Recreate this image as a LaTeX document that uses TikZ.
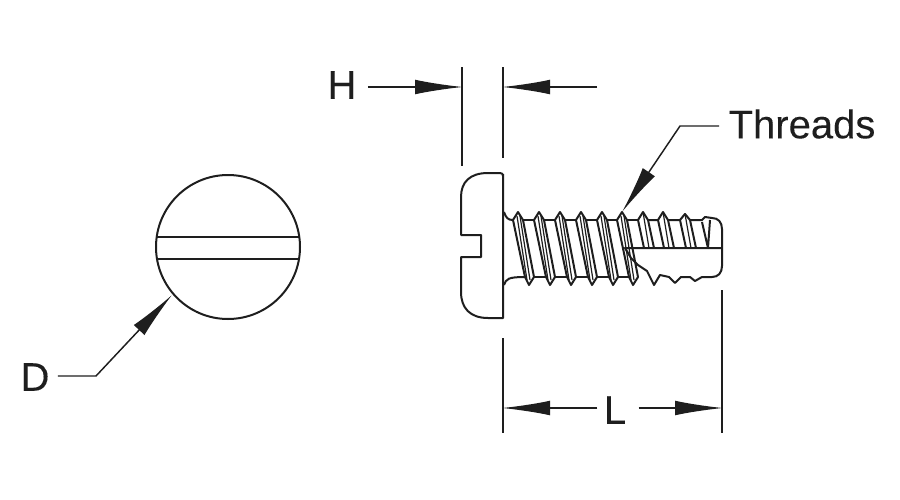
\documentclass[tikz,border=0pt]{standalone}
\usepackage{fontspec}
\setmainfont{Liberation Sans}
\usetikzlibrary{arrows.meta}
\definecolor{inkline}{RGB}{30,30,30}
\tikzset{every picture/.style={line width=0.75pt},
  outline/.style={draw=inkline,line width=1.5pt,line join=round},
  thin outline/.style={draw=inkline,line width=0.9pt,line join=round},
  extline/.style={draw=inkline,line width=1.05pt},
  dimarrow/.style={draw=inkline,line width=1.1pt,-{Latex[length=36pt,width=11pt]}},
  dimlabel/.style={inner sep=0.75pt,text=inkline,font=\fontsize{30}{32}\selectfont\addfontfeature{FakeBold=0.12}}}

\begin{document}
\begin{tikzpicture}[x=0.75pt,y=0.75pt,yscale=-1,xscale=1]
\useasboundingbox (0,0) rectangle (900,500);

% Text Node
\node [dimlabel] (labelH) at (342,85) {H};
\node [dimlabel] (labelThreads) at (802,124) {Threads};
\node [dimlabel] (labelD) at (35,377) {D};
\node [dimlabel] (labelL) at (615,410) {L};

%Shape: End view
\node [circle,draw=inkline,line width=1.5pt,minimum size=108pt,inner sep=0pt] (endview) at (228,247) {};
\draw [outline] (endview.center) ++(-71.5,-10.5) -- ++(143,0) ;
\draw [outline] (endview.center) ++(-71.5,12) -- ++(143,0) ;

%Shape: Head
\draw [outline] (503,174) -- (503,318) -- (488,318) .. controls (470,318) and (461,308) .. (461,292) -- (461,257) -- (481,257) -- (481,235) -- (461,235) -- (461,197) .. controls (461,182) and (470,173) .. (488,173) -- (500,173) .. controls (502,173) and (503,174) .. (503,176) ;

%Shape: Shank ends
\draw [outline] (504,212) .. controls (506,218) and (508,220) .. (513,220) ;
\draw [outline] (504,285) .. controls (506,279) and (508,277) .. (525,277) ;

%Shape: Full threads
\draw [outline] (513,220) -- (518,212) -- (523,220) -- (534,277) -- (529,285) -- (525,277) -- cycle ;
\draw [outline] (534,220) -- (539,212) -- (544,220) -- (555,277) -- (550,285) -- (546,277) -- cycle ;
\draw [outline] (555,220) -- (560,212) -- (565,220) -- (576,277) -- (571,285) -- (567,277) -- cycle ;
\draw [outline] (576,220) -- (581,212) -- (586,220) -- (597,277) -- (592,285) -- (588,277) -- cycle ;
\draw [outline] (597,220) -- (602,212) -- (607,220) -- (618,277) -- (613,285) -- (609,277) -- cycle ;
\draw [outline] (617,220) -- (622,212) -- (627,220) -- (638,277) -- (633,285) -- (629,277) -- cycle ;
\draw [thin outline] (517,216) -- (527,280) ;
\draw [thin outline] (520,216) -- (530,280) ;
\draw [thin outline] (538,216) -- (548,280) ;
\draw [thin outline] (541,216) -- (551,280) ;
\draw [thin outline] (559,216) -- (569,280) ;
\draw [thin outline] (562,216) -- (572,280) ;
\draw [thin outline] (580,216) -- (590,280) ;
\draw [thin outline] (583,216) -- (593,280) ;
\draw [thin outline] (601,216) -- (611,280) ;
\draw [thin outline] (604,216) -- (614,280) ;
\draw [thin outline] (621,216) -- (631,280) ;
\draw [thin outline] (624,216) -- (634,280) ;

%Shape: Root lines
\draw [outline] (523,220) -- (534,220) (544,220) -- (555,220) (565,220) -- (576,220) (586,220) -- (597,220) (607,220) -- (617,220) (627,220) -- (638,220) ;
\draw [outline] (534,277) -- (546,277) (555,277) -- (567,277) (576,277) -- (588,277) (597,277) -- (609,277) (618,277) -- (629,277) ;

%Shape: Cut threads
\draw [outline] (638,220) -- (643,212) -- (648,220) -- (654,248) ;
\draw [outline] (638,220) -- (644,248) ;
\draw [thin outline] (643,212) -- (649,248) ;
\draw [outline] (648,220) -- (658,220) -- (663,212) -- (668,220) -- (674,248) ;
\draw [outline] (658,220) -- (664,248) ;
\draw [thin outline] (663,212) -- (669,248) ;
\draw [outline] (668,220) -- (680,220) -- (685,214) -- (690,220) -- (696,248) ;
\draw [outline] (680,220) -- (686,248) ;
\draw [thin outline] (685,214) -- (691,248) ;
\draw [outline] (690,220) -- (702,220) -- (705,217) -- (712,218) ;
\draw [outline] (702,222) -- (708,248) -- (710,220) ;

%Shape: Tip and cut face
\draw [outline] (712,218) .. controls (718,218) and (722,222) .. (722,229) -- (722,266) .. controls (722,273) and (718,277) .. (712,277) -- (702,277) -- (695,281) -- (690,277) -- (681,277) -- (675,283) -- (669,277) -- (660,275) -- (654,285) -- (647,271) -- (638,265) -- (631,258) -- (625,248) -- (722,248) ;

%Straight Lines: extension lines
\coordinate (Htop) at (462,67);
\coordinate (Hbot) at (462,166);
\coordinate (H2top) at (503,67);
\coordinate (H2bot) at (503,158);
\coordinate (Ltop) at (503,338);
\coordinate (Lbot) at (503,433);
\coordinate (L2top) at (722,290);
\coordinate (L2bot) at (722,433);
\draw [extline] (Htop) -- (Hbot) ;
\draw [extline] (H2top) -- (H2bot) ;
\draw [extline] (Ltop) -- (Lbot) ;
\draw [extline] (L2top) -- (L2bot) ;

%Straight Lines: dimension arrows
\coordinate (Hleft) at (463,87);
\coordinate (Hright) at (502,87);
\coordinate (Hfree) at (597,87);
\coordinate (Lleft) at (502,408);
\coordinate (Lright) at (723,408);
\coordinate (threadtip) at (622,212);
\coordinate (threadknee) at (680,126);
\coordinate (circletip) at (172,295);
\coordinate (circleknee) at (96,376);
\draw [dimarrow] (labelH.east) ++(10,2) -- (Hleft) ;
\draw [dimarrow] (Hfree) -- (Hright) ;
\draw [dimarrow] (labelL.west) ++(-5,-2) -- (Lleft) ;
\draw [dimarrow] (labelL.east) ++(11,-2) -- (Lright) ;
\draw [dimarrow] (labelThreads.west) ++(-8,2) -- (threadknee) -- (threadtip) ;
\draw [dimarrow] (labelD.east) ++(7,-1) -- (circleknee) -- (circletip) ;

\end{tikzpicture}
\end{document}
